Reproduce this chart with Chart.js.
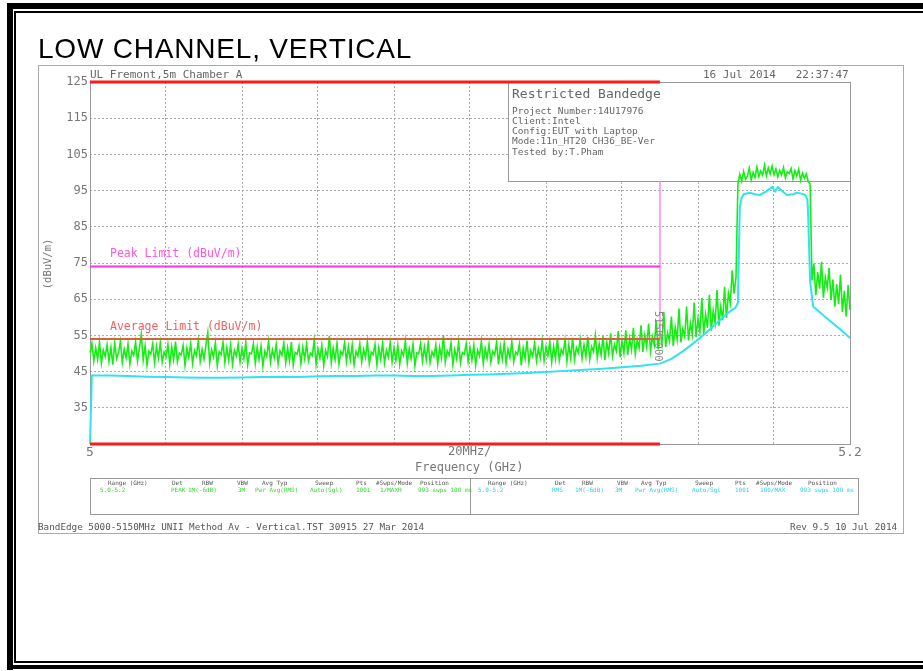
<!DOCTYPE html>
<html>
<head>
<meta charset="utf-8">
<title>LOW CHANNEL, VERTICAL</title>
<script src="https://cdn.jsdelivr.net/npm/chart.js@4.4.1/dist/chart.umd.min.js"></script>
<style>
  body { margin: 0; background: #fff; width: 923px; height: 671px; overflow: hidden; position: relative; }
  #chart { position: absolute; left: 0; top: 0; }
  .blk { position: absolute; background: #000; }
  .t { position: absolute; white-space: pre; font-family: 'DejaVu Sans Mono', monospace; line-height: 1; color: #666; }
  .title { position: absolute; left: 38px; top: 35px; font-family: 'Liberation Sans', Arial, sans-serif; font-size: 28px; line-height: 28px; letter-spacing: 0.8px; color: #000; white-space: pre; }
  .frame { position: absolute; left: 38px; top: 65px; width: 864px; height: 467px; border: 1px solid #aaa; }
  .tbl { position: absolute; left: 90px; top: 478px; width: 767px; height: 35px; border: 1px solid #999; }
  .tdiv { position: absolute; left: 470px; top: 478px; width: 1px; height: 36px; background: #999; }
  .hd { font-size: 6px; color: #555; top: 480px; }
  .rg { font-size: 6px; color: #2fd82f; top: 487px; }
  .rc { font-size: 6px; color: #2fcfe0; top: 487px; }
</style>
</head>
<body>
<canvas id="chart" width="923" height="671"></canvas>

<!-- outer double border -->
<div class="blk" style="left:7px;top:3px;width:916px;height:6px"></div>
<div class="blk" style="left:14px;top:11px;width:909px;height:2px"></div>
<div class="blk" style="left:7px;top:3px;width:6px;height:667px"></div>
<div class="blk" style="left:14px;top:11px;width:2px;height:652px"></div>
<div class="blk" style="left:14px;top:661px;width:909px;height:2px"></div>
<div class="blk" style="left:7px;top:665px;width:916px;height:4px"></div>

<div class="title">LOW CHANNEL, VERTICAL</div>
<div class="frame"></div>

<div class="t" style="left:90px;top:69px;font-size:11px">UL Fremont,5m Chamber A</div>
<div class="t" style="left:703px;top:69px;font-size:11px">16 Jul 2014   22:37:47</div>

<div class="t" style="left:512px;top:87px;font-size:13px">Restricted Bandedge</div>
<div class="t" style="left:512px;top:106px;font-size:9.5px">Project Number:14U17976</div>
<div class="t" style="left:512px;top:116px;font-size:9.5px">Client:Intel</div>
<div class="t" style="left:512px;top:126px;font-size:9.5px">Config:EUT with Laptop</div>
<div class="t" style="left:512px;top:136px;font-size:9.5px">Mode:11n_HT20 CH36_BE-Ver</div>
<div class="t" style="left:512px;top:147px;font-size:9.5px">Tested by:T.Pham</div>

<div class="t" style="left:110px;top:248px;font-size:11.5px;color:#ff55dd">Peak Limit (dBuV/m)</div>
<div class="t" style="left:110px;top:321px;font-size:11.5px;color:#ee6262">Average Limit (dBuV/m)</div>

<div class="t" style="left:22px;top:259px;width:50px;font-size:10.5px;text-align:center;transform:rotate(-90deg);color:#777">(dBuV/m)</div>
<div class="t" style="left:632px;top:331px;width:54px;font-size:10.5px;text-align:center;transform:rotate(90deg);color:#888">5150.000</div>

<div class="t" style="left:448px;top:445px;font-size:12px;color:#777">20MHz/</div>
<div class="t" style="left:415px;top:461px;font-size:12px;color:#777">Frequency (GHz)</div>

<div class="tbl"></div>
<div class="tdiv"></div>
<div class="t hd" style="left:108px">Range (GHz)</div>
<div class="t hd" style="left:172px">Det</div>
<div class="t hd" style="left:202px">RBW</div>
<div class="t hd" style="left:237px">VBW</div>
<div class="t hd" style="left:262px">Avg Typ</div>
<div class="t hd" style="left:315px">Sweep</div>
<div class="t hd" style="left:356px">Pts</div>
<div class="t hd" style="left:376px">#Swps/Mode</div>
<div class="t hd" style="left:420px">Position</div>
<div class="t rg" style="left:100px">5.0-5.2</div>
<div class="t rg" style="left:171px">PEAK</div>
<div class="t rg" style="left:188px">1M(-6dB)</div>
<div class="t rg" style="left:238px">3M</div>
<div class="t rg" style="left:255px">Pwr Avg(RMS)</div>
<div class="t rg" style="left:310px">Auto(Sgl)</div>
<div class="t rg" style="left:356px">1001</div>
<div class="t rg" style="left:380px">1/MAXH</div>
<div class="t rg" style="left:418px">993 swps 100 ms</div>

<div class="t hd" style="left:488px">Range (GHz)</div>
<div class="t hd" style="left:555px">Det</div>
<div class="t hd" style="left:582px">RBW</div>
<div class="t hd" style="left:617px">VBW</div>
<div class="t hd" style="left:641px">Avg Typ</div>
<div class="t hd" style="left:695px">Sweep</div>
<div class="t hd" style="left:735px">Pts</div>
<div class="t hd" style="left:756px">#Swps/Mode</div>
<div class="t hd" style="left:808px">Position</div>
<div class="t rc" style="left:478px">5.0-5.2</div>
<div class="t rc" style="left:552px">RMS</div>
<div class="t rc" style="left:575px">1M(-6dB)</div>
<div class="t rc" style="left:615px">3M</div>
<div class="t rc" style="left:635px">Pwr Avg(RMS)</div>
<div class="t rc" style="left:692px">Auto/Sgl</div>
<div class="t rc" style="left:735px">1001</div>
<div class="t rc" style="left:760px">100/MAX</div>
<div class="t rc" style="left:800px">993 swps 100 ms</div>

<div class="t" style="left:38px;top:522px;font-size:9.3px;color:#555">BandEdge 5000-5150MHz UNII Method Av - Vertical.TST 30915 27 Mar 2014</div>
<div class="t" style="left:790px;top:522px;font-size:9.4px;color:#555">Rev 9.5 10 Jul 2014</div>

<script>
// sweep grid for the peak trace (GHz)
const freqStart = 5.0;
const freqStep = 0.0005;

// peak detector trace (dBuV/m), one value per sweep step
const peakTrace = [
  50.2,52.8,47.9,51.6,48.4,53.1,47.3,50.9,49.2,52.4,47.8,51.7,46.9,52.9,48.6,50.3,53.4,47.5,51.2,48.8,
  52.6,47.1,50.7,49.5,53.2,47.9,51.4,55.3,48.2,52.1,46.8,50.6,49.8,52.7,47.4,51.9,48.7,53.0,47.6,50.4,
  49.1,52.5,47.0,51.8,48.3,53.3,47.7,50.1,49.6,52.2,46.7,51.5,48.9,52.8,47.2,50.8,49.4,53.5,47.8,51.1,
  48.5,52.3,55.8,47.4,51.0,49.0,52.9,46.6,50.5,49.7,53.1,47.5,51.6,48.1,52.4,47.0,50.9,49.3,52.6,47.7,
  51.3,48.6,53.0,46.9,50.2,49.9,52.7,47.3,51.8,48.4,52.0,46.5,50.6,49.2,53.4,47.6,51.0,48.8,52.5,47.1,
  50.7,49.5,52.9,47.4,51.5,48.0,53.2,46.8,50.3,49.8,52.1,47.2,51.7,48.5,52.6,47.9,50.1,49.4,53.6,47.0,
  51.2,48.7,52.3,46.7,50.8,49.1,54.9,47.5,51.4,48.3,52.8,47.1,50.5,49.6,53.0,47.8,51.9,48.2,52.4,46.9,
  50.6,49.3,52.7,47.6,51.1,48.9,53.3,47.2,50.4,49.7,52.5,46.8,51.6,48.4,52.9,47.4,50.9,49.0,53.1,47.7,
  51.5,48.1,52.2,47.0,50.7,49.4,53.5,47.3,51.3,48.6,52.6,46.6,50.2,49.9,52.8,47.9,51.8,48.3,53.0,47.5,
  50.5,49.2,52.4,47.1,51.7,48.8,55.1,47.6,50.8,49.5,52.9,46.9,51.0,48.5,53.2,47.4,50.3,49.8,52.7,47.8,
  51.6,48.2,52.3,46.8,50.9,49.3,53.4,47.2,51.4,48.7,52.5,47.6,50.6,49.6,53.1,47.0,51.9,48.4,52.8,47.3,
  51.2,48.9,53.3,47.7,50.4,49.7,52.6,46.7,51.5,48.6,53.6,47.5,50.8,49.2,52.9,47.9,51.3,48.8,53.5,48.0,
  51.8,49.4,53.2,47.6,52.0,48.5,54.1,48.1,51.1,49.9,53.7,47.8,52.4,48.7,54.3,48.3,51.6,50.2,53.9,48.6,
  52.3,49.1,54.6,48.4,51.9,50.5,55.0,48.8,52.7,49.6,54.8,48.2,53.1,50.0,55.6,49.3,52.5,50.7,56.2,49.0,
  53.5,50.1,56.4,49.6,54.2,51.0,57.1,49.9,53.8,51.5,57.8,50.4,55.0,51.8,58.3,50.7,54.6,52.3,59.0,51.2,
  56.0,52.6,61.5,51.8,55.7,53.4,60.2,52.0,57.3,53.9,62.4,53.1,56.8,54.7,63.0,53.6,58.4,55.2,64.1,54.5,
  59.6,56.0,65.3,55.4,60.8,57.1,66.2,56.3,61.9,58.4,67.5,57.7,63.0,59.2,68.4,59.8,66.6,63.8,73.0,66.5,
  71.0,
  96.8,99.5,97.6,100.3,98.1,99.0,101.2,97.9,100.0,98.6,101.5,98.9,100.4,99.2,102.0,99.1,101.3,99.6,101.8,
  99.4,101.0,98.8,100.6,99.3,101.4,98.5,100.2,99.7,101.1,98.2,100.5,99.0,100.9,97.8,99.8,98.4,99.6,97.5,96.9,
  70.2,74.8,66.1,72.5,67.9,75.3,65.4,71.0,68.2,73.6,64.8,70.4,62.9,69.1,63.6,71.8,61.5,67.3,60.2,68.9,62.0
];

// average (RMS) trace, frequency / level pairs
const avgFreq = [
  5.0, 5.0005, 5.005, 5.01, 5.015, 5.02, 5.025, 5.03, 5.035, 5.04, 5.045, 5.05, 5.055, 5.06, 5.065,
  5.07, 5.075, 5.08, 5.085, 5.09, 5.095, 5.1, 5.105, 5.11, 5.115, 5.12, 5.125, 5.13, 5.135, 5.14,
  5.145, 5.15, 5.153, 5.156, 5.159, 5.162, 5.165, 5.168, 5.1698, 5.1705, 5.171, 5.1715, 5.172,
  5.1737, 5.175, 5.1763, 5.178, 5.1795, 5.1803, 5.181, 5.1822, 5.1834, 5.185, 5.186, 5.1875,
  5.1882, 5.1888, 5.189, 5.1895, 5.1903, 5.1925, 5.195, 5.1975, 5.2
];
const avgLevel = [
  25, 43.9, 43.9, 43.8, 43.6, 43.5, 43.4, 43.3, 43.3, 43.4, 43.5, 43.6, 43.5, 43.7, 43.8,
  43.8, 43.9, 43.9, 43.8, 43.8, 43.9, 44.1, 44.2, 44.4, 44.6, 44.9, 45.2, 45.5, 45.8, 46.2,
  46.6, 47.2, 48.5, 50.6, 53.0, 55.6, 58.5, 61.3, 62.6, 64.0, 90.5, 93.0, 94.0,
  94.4, 94.0, 93.8, 94.8, 96.0, 94.8, 96.0, 94.8, 93.8, 94.0, 94.4, 94.1,
  93.8, 92.5, 88.0, 70.0, 63.0, 61.0, 58.8, 56.6, 54.3
];

// limits (dBuV/m) and restricted band edge (GHz)
const peakLimit = 74;
const avgLimit = 54;
const limitFreq = [5.0, 5.15];
const bandEdge = 5.15;
const refTop = 125;
const refBottom = 25;

// axes
const xTicks = [5.0, 5.02, 5.04, 5.06, 5.08, 5.1, 5.12, 5.14, 5.16, 5.18, 5.2];
const xTickLabels = ['5', '', '', '', '', '', '', '', '', '', '5.2'];
const yTicks = [25, 35, 45, 55, 65, 75, 85, 95, 105, 115, 125];

// info box corner (GHz / dBuV/m), drawn over the grid
const boxFreq = 5.11;
const boxLevel = 97.6;

function pts(xs, ys) {
    return xs.map(function (x, i) { return { x: x, y: ys[i] }; });
}

const peakData = peakTrace.map(function (v, i) {
    return { x: freqStart + i * freqStep, y: v };
});

const frameBox = {
    id: 'frameBox',
    beforeDatasetsDraw: function (chart) {
        const ctx = chart.ctx;
        const a = chart.chartArea;
        const bx = Math.round(chart.scales.x.getPixelForValue(boxFreq));
        const by = Math.round(chart.scales.y.getPixelForValue(boxLevel));
        ctx.save();
        ctx.lineWidth = 1;
        ctx.strokeStyle = '#999';
        ctx.strokeRect(a.left + 0.5, a.top + 0.5, a.right - a.left, a.bottom - a.top);
        ctx.fillStyle = '#fff';
        ctx.fillRect(bx, a.top, a.right - bx, by - a.top);
        ctx.strokeRect(bx + 0.5, a.top + 0.5, a.right - bx, by - a.top);
        ctx.restore();
    }
};

const monoFont = { family: 'DejaVu Sans Mono', size: 12 };

new Chart(document.getElementById('chart'), {
    type: 'line',
    data: {
        datasets: [
            { data: pts(limitFreq, [refTop, refTop]), borderColor: '#ff1a1a', borderWidth: 3 },
            { data: pts(limitFreq, [refBottom, refBottom]), borderColor: '#ff1a1a', borderWidth: 3 },
            { data: pts(limitFreq, [peakLimit, peakLimit]), borderColor: '#ff33dd', borderWidth: 2 },
            { data: pts(limitFreq, [avgLimit, avgLimit]), borderColor: '#d9603c', borderWidth: 2 },
            { data: pts([bandEdge, bandEdge], [avgLimit, boxLevel]), borderColor: '#ff8ae8', borderWidth: 1.5 },
            { data: pts(avgFreq, avgLevel), borderColor: '#2fe3f0', borderWidth: 2 },
            { data: peakData, borderColor: '#14ee14', borderWidth: 1.6 }
        ]
    },
    options: {
        responsive: false,
        animation: false,
        devicePixelRatio: 1,
        layout: { padding: { left: 0, top: 82, right: 73, bottom: 207 } },
        plugins: { legend: { display: false }, tooltip: { enabled: false } },
        elements: { point: { radius: 0 }, line: { tension: 0 } },
        datasets: { line: { clip: false } },
        scales: {
            x: {
                type: 'linear',
                min: 5.0,
                max: 5.2,
                afterFit: function (s) { s.height = 20; },
                afterBuildTicks: function (s) { s.ticks = xTicks.map(function (v) { return { value: v }; }); },
                ticks: {
                    autoSkip: false,
                    maxRotation: 0,
                    padding: 1,
                    color: '#777',
                    font: { family: 'DejaVu Sans Mono', size: 13 },
                    callback: function (v, i) { return xTickLabels[i]; }
                },
                grid: { color: '#aaa', drawTicks: false },
                border: { display: false, dash: [2, 2] }
            },
            y: {
                min: 25,
                max: 125,
                afterFit: function (s) { s.width = 90; },
                afterBuildTicks: function (s) { s.ticks = yTicks.map(function (v) { return { value: v }; }); },
                ticks: {
                    padding: 2,
                    color: '#777',
                    font: monoFont,
                    callback: function (v) { return v === 25 ? '' : String(v); }
                },
                grid: { color: '#aaa', drawTicks: false },
                border: { display: false, dash: [2, 2] }
            }
        }
    },
    plugins: [frameBox]
});
</script>
</body>
</html>
